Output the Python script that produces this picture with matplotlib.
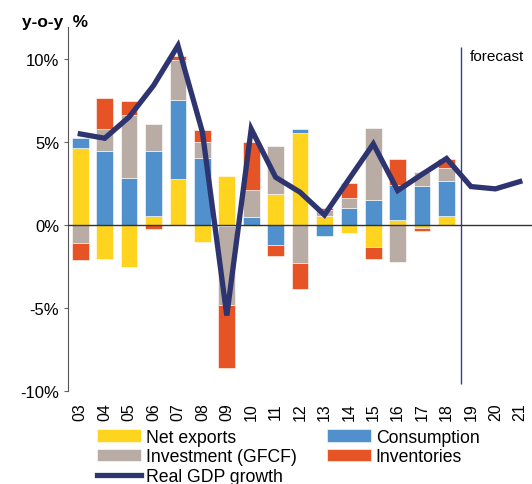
import numpy as np
import matplotlib
matplotlib.use("Agg")
import matplotlib.pyplot as plt

plt.rcParams['font.family'] = ['Liberation Sans', 'DejaVu Sans']

years = ["03", "04", "05", "06", "07", "08", "09", "10", "11", "12",
         "13", "14", "15", "16", "17", "18", "19", "20", "21"]

# contributions to growth, pp (history only, 2003-2018)
net_exports = [4.65, -2.05, -2.55, 0.54, 2.75, -1.04, 2.97, -0.08, 1.87, 5.52,
               0.56, -0.50, -1.34, 0.30, -0.20, 0.54]
consumption = [0.57, 4.48, 2.83, 3.94, 4.76, 4.04, -0.05, 0.46, -1.19, 0.24,
               -0.64, 1.02, 1.52, 2.11, 2.33, 2.13]
investment = [-1.08, 1.30, 3.80, 1.62, 2.43, 0.94, -4.76, 1.67, 2.91, -2.31,
              0.36, 0.61, 4.32, -2.21, 0.84, 0.76]
inventories = [-1.05, 1.87, 0.86, -0.26, 0.26, 0.74, -3.81, 2.85, -0.70, -1.55,
               0.10, 0.88, -0.71, 1.57, -0.14, 0.52]
gdp = [5.48, 5.22, 6.5, 8.4, 10.8, 5.6, -5.46, 5.78, 2.87, 1.97,
       0.6, 2.75, 4.88, 2.07, 3.05, 4.0, 2.31, 2.17, 2.61]

series = [("Net exports", net_exports, "#FFD41F"),
          ("Consumption", consumption, "#4F90CD"),
          ("Investment (GFCF)", investment, "#B8ACA4"),
          ("Inventories", inventories, "#E65325")]

fig = plt.figure(figsize=(5.32, 4.85), dpi=100)
ax = fig.add_axes([0.128, 0.192, 0.872, 0.7495])

x = np.arange(len(net_exports))
pos_bottom = np.zeros(len(x))
neg_bottom = np.zeros(len(x))
handles = {}
for name, vals, col in series:
    v = np.array(vals)
    b = np.where(v >= 0, pos_bottom, neg_bottom)
    h = ax.bar(x, v, 0.68, bottom=b, color=col, edgecolor="white",
               linewidth=0.4, label=name)
    handles[name] = h
    pos_bottom += np.where(v >= 0, v, 0)
    neg_bottom += np.where(v < 0, v, 0)

ln, = ax.plot(np.arange(len(gdp)), gdp, color="#2E3470", lw=3.8,
              label="Real GDP growth", zorder=5, solid_joinstyle="miter")

ax.axhline(0, color="#333333", lw=1.0, zorder=4)
ax.vlines(15.6, -9.6, 10.7, color="#3A3F85", lw=1.0)
ax.text(15.95, 10.2, "forecast", fontsize=11, va="center", ha="left")

ax.set_xlim(-0.5, 18.5)
ax.set_ylim(-10, 11.9)
ax.set_yticks([-10, -5, 0, 5, 10])
ax.set_yticklabels(["-10%", "-5%", "0%", "5%", "10%"], fontsize=12)
ax.set_xticks(np.arange(len(years)))
ax.set_xticklabels(years, rotation=90, fontsize=11.5)
ax.tick_params(axis="x", length=0, pad=8)
ax.tick_params(axis="y", length=3, color="#666666", direction="out")
for s in ["top", "right", "bottom"]:
    ax.spines[s].set_visible(False)
ax.spines["left"].set_color("#555555")

fig.text(0.041, 0.9526, "y-o-y  %", fontsize=12.4, fontweight="bold",
         va="center")

order = [handles["Net exports"], handles["Investment (GFCF)"], ln,
         handles["Consumption"], handles["Inventories"]]
fig.legend(handles=order, labels=[h.get_label() for h in order], ncol=2,
           loc="upper left", bbox_to_anchor=(0.182, 0.114), frameon=False,
           fontsize=12.7, handlelength=2.5, handleheight=0.7,
           labelspacing=0.15, columnspacing=1.7, handletextpad=0.28,
           borderpad=0, borderaxespad=0)

fig.savefig("out.png", dpi=100)
